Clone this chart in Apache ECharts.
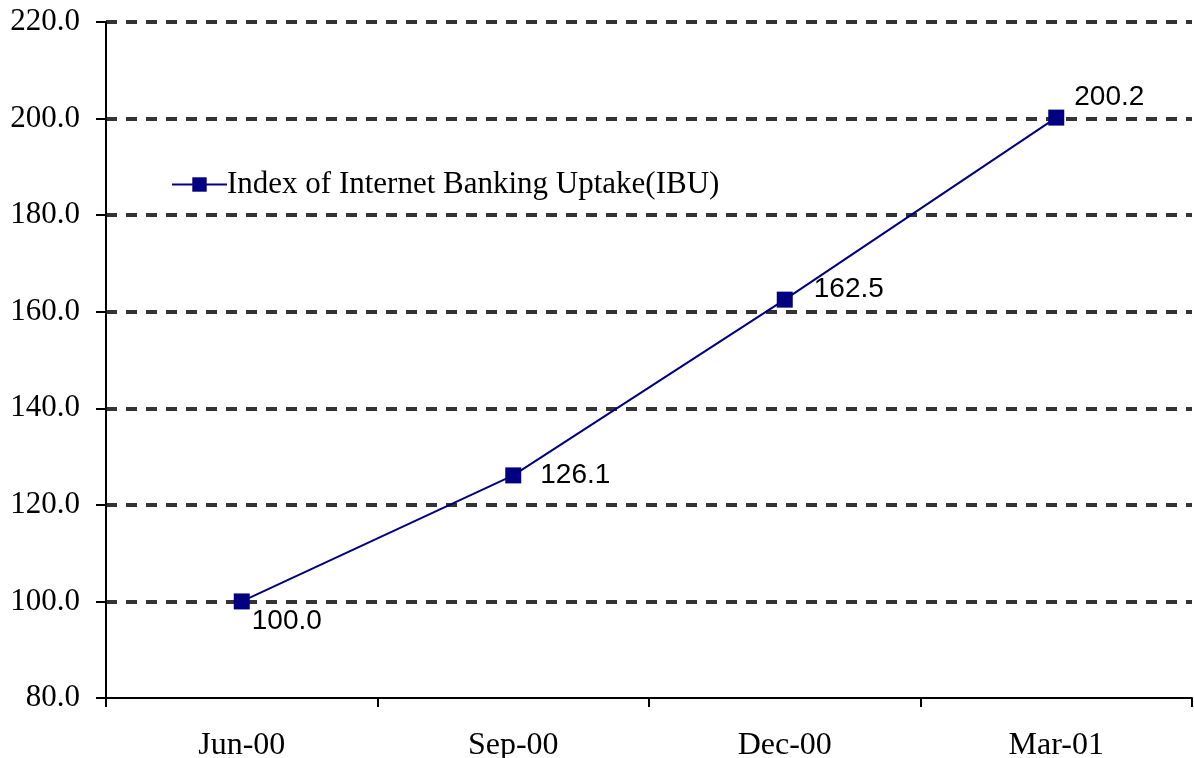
<!DOCTYPE html>
<html><head><meta charset="utf-8">
<script src="https://cdn.jsdelivr.net/npm/echarts@6/dist/echarts.min.js"></script>
<style>html,body{margin:0;padding:0;background:#fff}#c{width:1194px;height:758px}</style>
</head><body><div id="c"></div>
<script>
const categories = ['Jun-00', 'Sep-00', 'Dec-00', 'Mar-01'];
const ibuValues = [100.0, 126.1, 162.5, 200.2];
const seriesName = 'Index of Internet Banking Uptake(IBU)';
const labelOffsets = [[-3, 20], [14, 0], [16, -10], [5, -20]];

const chart = echarts.init(document.getElementById('c'));
chart.setOption({
  animation: false,
  backgroundColor: '#fff',
  grid: { left: 106, right: 2, top: 22, bottom: 60, containLabel: false, outerBoundsMode: 'none' },
  legend: {
    left: 166, top: 164,
    itemWidth: 55, itemHeight: 18, itemGap: 0,
    textStyle: { fontFamily: 'Liberation Serif', fontSize: 31, color: '#000', padding: [0,0,0,-5] },
    data: [seriesName]
  },
  xAxis: {
    type: 'category',
    data: categories,
    boundaryGap: true,
    axisLine: { lineStyle: { color: '#000', width: 2 } },
    axisTick: { show: true, length: 9, lineStyle: { color: '#000', width: 2 } },
    axisLabel: { fontFamily: 'Liberation Serif', fontSize: 32, color: '#000', margin: 32 },
    splitLine: { show: false }
  },
  yAxis: {
    type: 'value',
    min: 80, max: 220, interval: 20,
    axisLine: { show: true, lineStyle: { color: '#000', width: 2 } },
    axisTick: { show: true, length: 10, lineStyle: { color: '#000', width: 2 } },
    axisLabel: { fontFamily: 'Liberation Serif', fontSize: 31, color: '#000', margin: 26,
      formatter: v => v.toFixed(1) },
    splitLine: { show: true, showMinLine: false, lineStyle: { color: '#333', width: 4, type: [11, 9] } }
  },
  series: [{
    name: seriesName,
    type: 'line',
    data: ibuValues.map((v, i) => ({
      value: v,
      label: { offset: labelOffsets[i] }
    })),
    symbol: 'rect',
    symbolSize: 16,
    itemStyle: { color: '#000080' },
    lineStyle: { color: '#000080', width: 2 },
    label: {
      show: true, position: 'right', distance: 5,
      fontFamily: 'Liberation Sans', fontSize: 28, color: '#000',
      formatter: p => p.value.toFixed(1)
    },
    z: 5
  }]
});
</script></body></html>
